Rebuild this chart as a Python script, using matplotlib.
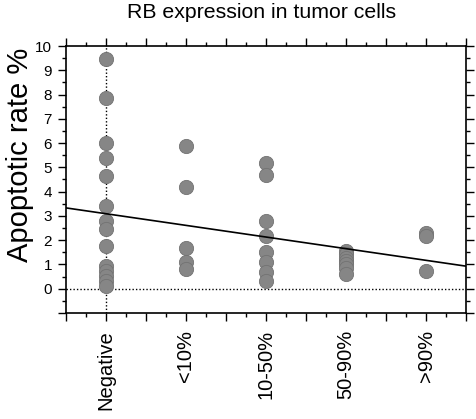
import matplotlib
matplotlib.use("Agg")
import matplotlib.pyplot as plt
import numpy as np
from matplotlib.ticker import MultipleLocator

plt.rcParams['font.family'] = ['Liberation Sans', 'DejaVu Sans']

categories = ["Negative", "<10%", "10-50%", "50-90%", ">90%"]
negative = [9.45, 7.85, 6.02, 5.4, 4.66, 3.39, 2.77, 2.47, 1.77, 0.92, 0.72, 0.52, 0.32, 0.12]
lt10 = [5.86, 4.18, 1.67, 1.1, 0.82]
p10_50 = [5.2, 4.69, 2.77, 2.18, 1.5, 1.12, 0.69, 0.3]
p50_90 = [1.55, 1.42, 1.28, 1.14, 1.0, 0.85, 0.62]
gt90 = [2.3, 2.18, 0.72]
series = [negative, lt10, p10_50, p50_90, gt90]
fit_intercept = 3.09
fit_slope = -0.48

fig = plt.figure(figsize=(4.76, 4.19), dpi=100)
ax = fig.add_axes([66/476, 1-313/419, 400/476, 267/419])

ax.axvline(0, color='black', linestyle=(0, (1, 1.5)), linewidth=1.0, zorder=1)
ax.axhline(0, color='black', linestyle=(0, (1, 1.5)), linewidth=1.0, zorder=1)

for i, vals in enumerate(series):
    ax.scatter([i]*len(vals), vals, s=105, color='#868686', edgecolor='#727272',
               linewidth=0.6, zorder=3)

xs = np.array([-0.5, 4.5])
ax.plot(xs, fit_intercept + fit_slope*xs, color='black', linewidth=1.2, zorder=4)

ax.set_xlim(-0.5, 4.5)
ax.set_ylim(-1, 10)

ax.xaxis.set_major_locator(MultipleLocator(0.5))
ax.xaxis.set_minor_locator(MultipleLocator(0.25))
ax.set_xticklabels([])
ax.yaxis.set_minor_locator(MultipleLocator(0.5))
ax.set_yticks(range(-1, 11))
ax.set_yticklabels([''] + [str(v) for v in range(0, 11)], fontsize=11)

ax.tick_params(which='both', direction='out', top=True, right=True, width=1.0)
ax.tick_params(which='major', length=6)
ax.tick_params(which='minor', length=3)
ax.tick_params(axis='y', pad=4)
for s in ax.spines.values():
    s.set_linewidth(1.2)

for i, c in enumerate(categories):
    ax.text(i, -1.7, c, rotation=90, ha='center', va='top', fontsize=14.5)

fig.text(262/476, 1-12/419, "RB expression in tumor cells", ha='center', va='center', fontsize=15.3)
fig.text(20/476, 1-155/419, "Apoptotic rate %", ha='center', va='center', rotation=90, fontsize=21)

fig.savefig("out.png", dpi=100)
